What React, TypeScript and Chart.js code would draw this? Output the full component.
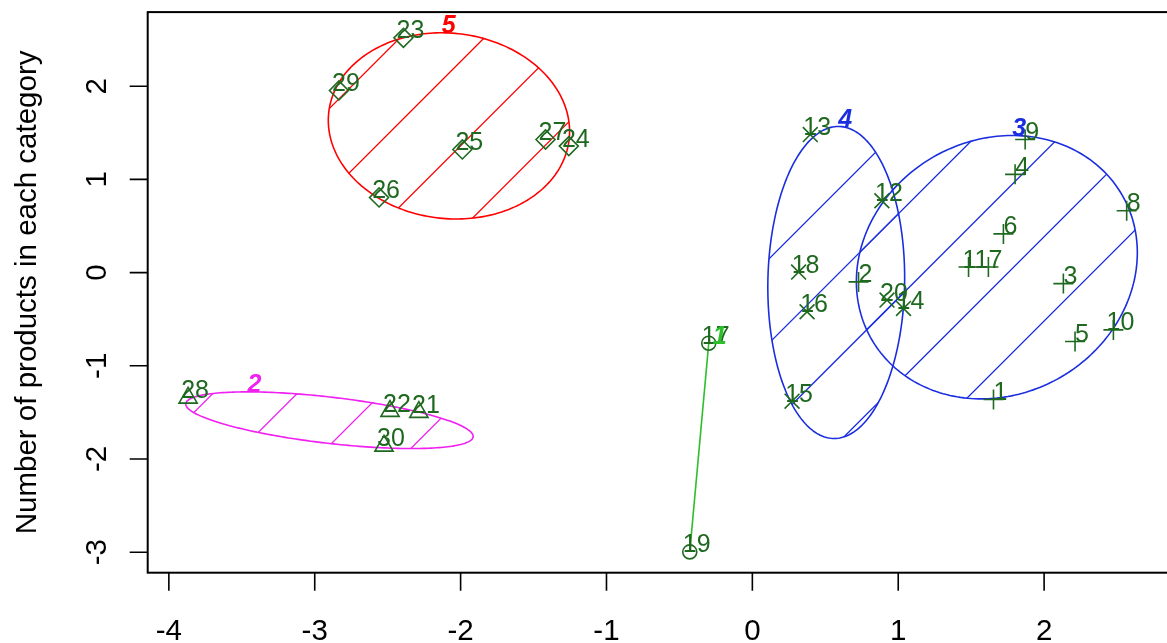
import React, { useEffect, useRef } from 'react';
import { Chart, registerables } from 'chart.js';

Chart.register(...registerables);

// ---------- axes ----------
const xTicks = [-4, -3, -2, -1, 0, 1, 2];
const yTicks = [-3, -2, -1, 0, 1, 2];
const xMin = -4.145;
const xMax = 2.9;
const yMin = -3.22;
const yMax = 2.795;
const yTitle = 'Number of products in each category';

// ---------- points (per cluster) ----------
const c1Labels = ['17', '19'];
const c1X = [-0.299, -0.429];
const c1Y = [-0.758, -2.997];

const c2Labels = ['28', '22', '21', '30'];
const c2X = [-3.868, -2.484, -2.286, -2.525];
const c2Y = [-1.344, -1.486, -1.497, -1.859];

const c3Labels = ['1', '2', '3', '4', '5', '6', '7', '8', '9', '10', '11'];
const c3X = [1.653, 0.728, 2.132, 1.801, 2.212, 1.721, 1.618, 2.566, 1.87, 2.475, 1.482];
const c3Y = [-1.361, -0.1, -0.118, 1.054, -0.74, 0.415, 0.06, 0.664, 1.428, -0.615, 0.06];

const c4Labels = ['12', '13', '14', '15', '16', '18', '20'];
const c4X = [0.888, 0.397, 1.036, 0.272, 0.375, 0.317, 0.923];
const c4Y = [0.771, 1.481, -0.385, -1.38, -0.42, 0.006, -0.295];

const c5Labels = ['23', '24', '25', '26', '27', '29'];
const c5X = [-2.392, -1.258, -1.988, -2.559, -1.418, -2.834];
const c5Y = [2.519, 1.357, 1.321, 0.806, 1.428, 1.954];

// ---------- cluster ellipses (clusters 5, 2, 3, 4) ----------
const ellCluster = ['5', '2', '3', '4'];
const ellCX = [-2.08, -2.899, 1.676, 0.575];
const ellCY = [1.574, -1.584, 0.058, -0.106];
const ellRX = [0.827, 0.985, 0.963, 0.469];
const ellRY = [0.999, 0.304, 1.413, 1.674];
const ellTilt = [-0.06, -0.571, 0.11, 0.03];
const ellColor = ['#ff0000', '#f020f0', '#1a2ee0', '#1a2ee0'];

const segCluster = '1';
const segColor = '#2cbf2c';

const DARK = '#1f681f';
const FONT = '"Liberation Sans", Arial, Helvetica, sans-serif';
const HATCH_STEP = 84.3; // spacing measured along x+y
const HATCH_PHASE = 25.1;

const groups = [
  { labels: c1Labels, xs: c1X, ys: c1Y, style: 'circle', r: 7 },
  { labels: c2Labels, xs: c2X, ys: c2Y, style: 'triangle', r: 10.5 },
  { labels: c3Labels, xs: c3X, ys: c3Y, style: 'cross', r: 10 },
  { labels: c4Labels, xs: c4X, ys: c4Y, style: 'crossRot', r: 10.5 },
  { labels: c5Labels, xs: c5X, ys: c5Y, style: 'rectRot', r: 9.5 },
];

const clusPlugin = {
  id: 'clusplot',
  beforeDatasetsDraw(chart: any) {
    const { ctx, chartArea: a, scales } = chart;
    const sx = scales.x;
    const sy = scales.y;
    ctx.save();
    ctx.beginPath();
    ctx.rect(a.left, a.top, a.right - a.left, a.bottom - a.top);
    ctx.clip();
    for (let i = 0; i < ellCX.length; i++) {
      const phi = Math.acos(ellTilt[i]);
      const path = new Path2D();
      for (let k = 0; k <= 240; k++) {
        const t = (k / 240) * Math.PI * 2;
        const px = sx.getPixelForValue(ellCX[i] + ellRX[i] * Math.cos(t));
        const py = sy.getPixelForValue(ellCY[i] + ellRY[i] * Math.cos(t - phi));
        if (k === 0) path.moveTo(px, py);
        else path.lineTo(px, py);
      }
      path.closePath();
      // hatching
      ctx.save();
      ctx.clip(path);
      ctx.strokeStyle = ellColor[i];
      ctx.lineWidth = 1.3;
      ctx.beginPath();
      const base = a.left + a.top + HATCH_PHASE;
      const n = Math.ceil((a.right - a.left + a.bottom - a.top) / HATCH_STEP) + 2;
      for (let k = -2; k <= n; k++) {
        const s = base + k * HATCH_STEP;
        ctx.moveTo(s - a.top, a.top);
        ctx.lineTo(s - a.bottom, a.bottom);
      }
      ctx.stroke();
      ctx.restore();
      ctx.strokeStyle = ellColor[i];
      ctx.lineWidth = 1.6;
      ctx.stroke(path);
    }
    ctx.restore();
  },
  afterDatasetsDraw(chart: any) {
    const { ctx, scales } = chart;
    const sx = scales.x;
    const sy = scales.y;
    ctx.save();
    ctx.textAlign = 'center';
    ctx.textBaseline = 'alphabetic';
    ctx.font = `25px ${FONT}`;
    ctx.fillStyle = DARK;
    groups.forEach((g) => {
      g.labels.forEach((lab, j) => {
        ctx.fillText(lab, sx.getPixelForValue(g.xs[j]) + 7, sy.getPixelForValue(g.ys[j]) + 0.5);
      });
    });
    // cluster labels at top of each ellipse
    ctx.font = `italic bold 25px ${FONT}`;
    for (let i = 0; i < ellCX.length; i++) {
      const tx = ellCX[i] + ellRX[i] * ellTilt[i];
      const ty = ellCY[i] + ellRY[i];
      ctx.fillStyle = ellColor[i];
      ctx.fillText(ellCluster[i], sx.getPixelForValue(tx) + 7, sy.getPixelForValue(ty) + 0.5);
    }
    const topIdx = c1Y[0] >= c1Y[1] ? 0 : 1;
    ctx.fillStyle = segColor;
    ctx.fillText(segCluster, sx.getPixelForValue(c1X[topIdx]) + 11, sy.getPixelForValue(c1Y[topIdx]) + 0.5);
    ctx.restore();
  },
  afterDraw(chart: any) {
    const { ctx, chartArea: a, scales } = chart;
    const sx = scales.x;
    const sy = scales.y;
    ctx.save();
    ctx.strokeStyle = '#000';
    ctx.fillStyle = '#000';
    ctx.lineWidth = 2;
    ctx.strokeRect(a.left, a.top, a.right - a.left, a.bottom - a.top);
    ctx.lineWidth = 1.6;
    ctx.beginPath();
    xTicks.forEach((v) => {
      const px = sx.getPixelForValue(v);
      ctx.moveTo(px, a.bottom);
      ctx.lineTo(px, a.bottom + 18);
    });
    yTicks.forEach((v) => {
      const py = sy.getPixelForValue(v);
      ctx.moveTo(a.left - 18, py);
      ctx.lineTo(a.left, py);
    });
    ctx.stroke();
    ctx.font = `29.5px ${FONT}`;
    ctx.textAlign = 'center';
    ctx.textBaseline = 'alphabetic';
    xTicks.forEach((v) => {
      ctx.fillText(String(v), sx.getPixelForValue(v), a.bottom + 67.5);
    });
    yTicks.forEach((v) => {
      ctx.save();
      ctx.translate(a.left - 42, sy.getPixelForValue(v));
      ctx.rotate(-Math.PI / 2);
      ctx.fillText(String(v), 0, 0);
      ctx.restore();
    });
    ctx.save();
    ctx.translate(a.left - 112, (a.top + a.bottom) / 2);
    ctx.rotate(-Math.PI / 2);
    ctx.fillText(yTitle, 0, 0);
    ctx.restore();
    ctx.restore();
  },
};

const W = 1200;
const H = 643;

export default function App() {
  const ref = useRef<HTMLCanvasElement | null>(null);
  useEffect(() => {
    if (!ref.current) return;
    const datasets = groups.map((g, gi) => ({
      label: 'Cluster ' + (gi + 1),
      data: g.xs.map((x, j) => ({ x, y: g.ys[j] })),
      pointStyle: g.style,
      pointRadius: g.r,
      pointHoverRadius: g.r,
      pointBorderColor: DARK,
      pointBackgroundColor: 'rgba(0,0,0,0)',
      pointBorderWidth: 1.6,
      showLine: gi === 0,
      borderColor: segColor,
      borderWidth: 1.6,
      fill: false,
    }));
    const chart = new Chart(ref.current, {
      type: 'scatter',
      data: { datasets } as any,
      options: {
        animation: false,
        responsive: false,
        events: [],
        layout: { padding: { left: 147.7, top: 8.3, right: W - 1175.4, bottom: H - 572.7 } },
        plugins: { legend: { display: false }, tooltip: { enabled: false }, title: { display: false } },
        scales: {
          x: { type: 'linear', display: false, min: xMin, max: xMax },
          y: { type: 'linear', display: false, min: yMin, max: yMax },
        },
      } as any,
      plugins: [clusPlugin],
    });
    return () => chart.destroy();
  }, []);
  return (
    <div style={{ position: 'absolute', left: 0, top: 0, width: 1167, height: 643, overflow: 'hidden', background: '#fff' }}>
      <canvas ref={ref} width={W} height={H} style={{ display: 'block', width: W, height: H }} />
    </div>
  );
}
